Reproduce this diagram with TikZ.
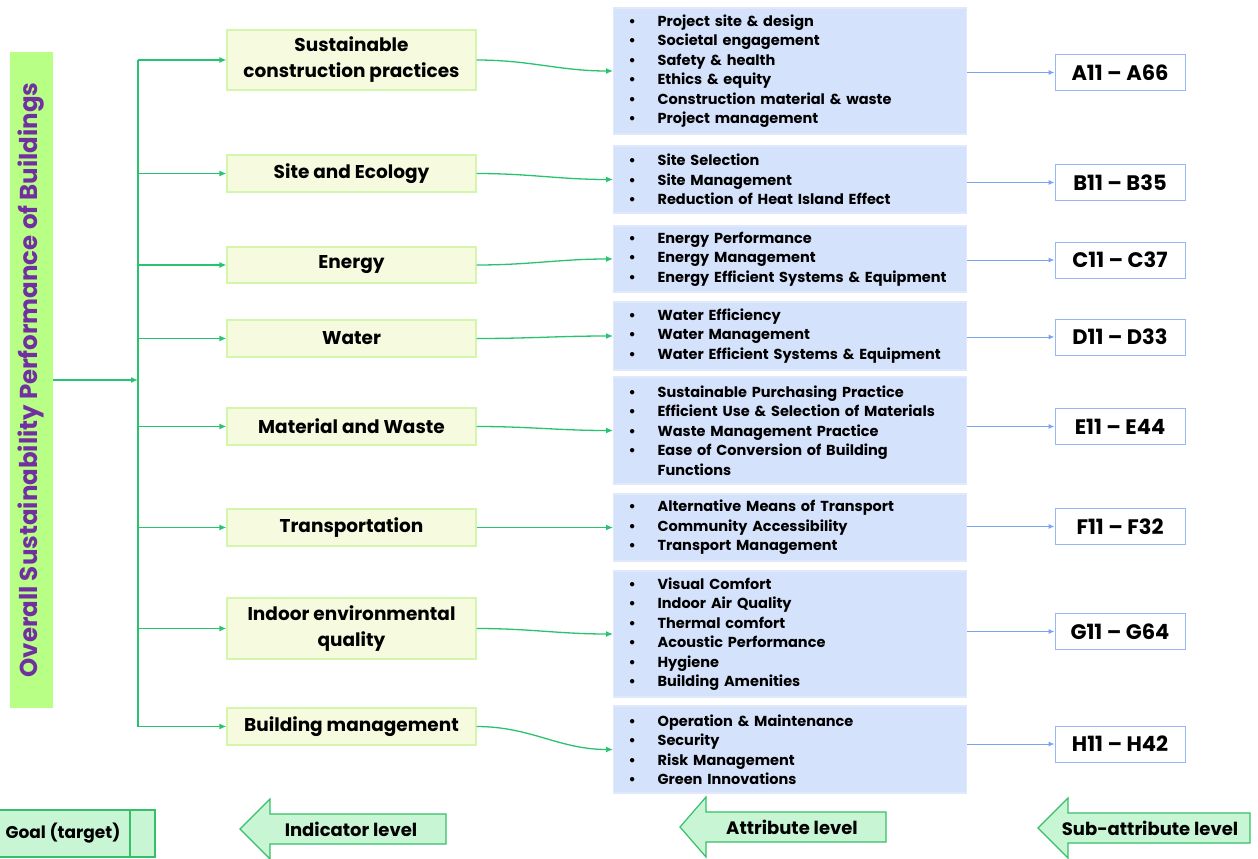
\documentclass[tikz,border=0pt]{standalone}
\usepackage{fontspec}
\setmainfont{Poppins}
\usepackage{xcolor}
\usetikzlibrary{arrows.meta, calc}

\definecolor{GoalFill}{RGB}{184,255,134}
\definecolor{GoalText}{RGB}{112,48,160}
\definecolor{LinkGreen}{RGB}{40,195,110}
\definecolor{IndFill}{RGB}{246,250,222}
\definecolor{IndLine}{RGB}{212,246,172}
\definecolor{AttrFill}{RGB}{213,226,252}
\definecolor{AttrLine}{RGB}{224,233,252}
\definecolor{CodeLine}{RGB}{150,185,245}
\definecolor{LinkBlue}{RGB}{120,165,240}
\definecolor{LevelFill}{RGB}{200,246,212}
\definecolor{LevelLine}{RGB}{55,190,105}

\tikzset{
    goalbar/.style={fill=GoalFill, text=GoalText, rotate=90, minimum width=656pt, minimum height=43pt,
        inner sep=0pt, font=\fontsize{24.5}{28}\selectfont\bfseries},
    indbox/.style={draw=IndLine, fill=IndFill, line width=1.2pt, minimum width=249pt, align=center,
        inner sep=0pt, font=\fontsize{18.5}{26}\selectfont\bfseries},
    attrbox/.style={draw=AttrLine, fill=AttrFill, line width=1.2pt, text width=323pt, inner xsep=15pt,
        inner ysep=0pt, align=left, anchor=west, font=\fontsize{14.5}{19.5}\selectfont\bfseries},
    codebox/.style={draw=CodeLine, fill=white, line width=1pt, minimum width=130pt, minimum height=36pt,
        font=\fontsize{21}{24}\selectfont\bfseries},
    greenlink/.style={draw=LinkGreen, line width=1.3pt, -{Latex[length=7pt, width=6pt]}},
    bluelink/.style={draw=LinkBlue, line width=1pt, -{Latex[length=6pt, width=5pt]}},
    levelshape/.style={draw=LevelLine, fill=LevelFill, line width=1.2pt},
    levellabel/.style={font=\fontsize{18}{20}\selectfont\bfseries}
}

\newcommand{\bul}{\makebox[29pt][l]{\textbullet}}

\begin{document}
\begin{tikzpicture}[x=1pt, y=-1pt]

    \NewDocumentCommand{\levelarrow}{ m m m m m m m }{
        \draw[levelshape] (#2,#3) -- (#4,#3-30) -- (#4,#3-15) -- (#5,#3-15)
            -- (#5,#3+15) -- (#4,#3+15) -- (#4,#3+30) -- cycle;
        \node[levellabel] (#1) at (#6,#3) {#7};
    }

    \useasboundingbox (0,0) rectangle (1258,859);

    %% Goal
    \node[goalbar] (goal) at (31.5,380) {Overall Sustainability Performance of Buildings};
    \coordinate (trunk) at (138,380);

    %% Indicators
    \foreach \n/\cy/\h/\txt in {
            1/60/60/{Sustainable\\construction practices},
            2/173.5/37/{Site and Ecology},
            3/265/36/{Energy},
            4/338.5/37/{Water},
            5/426.5/37/{Material and Waste},
            6/527.5/37/{Transportation},
            7/628.5/61/{Indoor environmental\\quality},
            8/726.5/37/{Building management}}
    \node[indbox, minimum height=\h] (ind\n) at (351.5,\cy) {\txt};

    %% Attributes
    \foreach \n/\cy/\h/\txt in {
            1/71/126/{\bul Project site \& design\\\bul Societal engagement\\\bul Safety \& health\\
                \bul Ethics \& equity\\\bul Construction material \& waste\\\bul Project management},
            2/179.5/67/{\bul Site Selection\\\bul Site Management\\\bul Reduction of Heat Island Effect},
            3/259/66/{\bul Energy Performance\\\bul Energy Management\\\bul Energy Efficient Systems \& Equipment},
            4/336/68/{\bul Water Efficiency\\\bul Water Management\\\bul Water Efficient Systems \& Equipment},
            5/430.5/107/{\bul Sustainable Purchasing Practice\\\bul Efficient Use \& Selection of Materials\\
                \bul Waste Management Practice\\\bul Ease of Conversion of Building\\\hspace*{29pt}Functions},
            6/527.5/67/{\bul Alternative Means of Transport\\\bul Community Accessibility\\\bul Transport Management},
            7/634/126/{\bul Visual Comfort\\\bul Indoor Air Quality\\\bul Thermal comfort\\
                \bul Acoustic Performance\\\bul Hygiene\\\bul Building Amenities},
            8/749.5/87/{\bul Operation \& Maintenance\\\bul Security\\\bul Risk Management\\\bul Green Innovations}}
    \node[attrbox, minimum height=\h] (attr\n) at (613,\cy) {\txt};

    %% Sub-attributes
    \foreach \n/\cy/\txt in {1/72.5/A11 – A66, 2/182.5/B11 – B35, 3/260/C11 – C37, 4/337/D11 – D33,
            5/426.5/E11 – E44, 6/526.5/F11 – F32, 7/631.5/G11 – G64, 8/744/H11 – H42}
    \node[codebox] (code\n) at (1120,\cy) {\txt};

    %% Connectors
    \draw[greenlink] (goal.south) -- (trunk);
    \draw[LinkGreen, line width=1.3pt] (ind1.west -| trunk) -- (ind8.west -| trunk);
    \foreach \n in {1,...,8} {
            \draw[greenlink] (ind\n.west -| trunk) -- (ind\n.west);
            \draw[greenlink] (ind\n.east) to[out=0, in=180] (attr\n.west);
            \draw[bluelink] (attr\n.east |- code\n.west) -- (code\n.west);
        }

    %% Levels
    \draw[levelshape] (-20,810) rectangle (155,857);
    \draw[LevelLine, line width=1.2pt] (130,810) -- (130,857);
    \node[levellabel, font=\fontsize{17}{20}\selectfont\bfseries] (goallevel) at (63,833) {Goal (target)};
    \levelarrow{indlevel}{240}{829}{270}{446}{351}{Indicator level}
    \levelarrow{attrlevel}{680}{827}{706}{886}{792}{Attribute level}
    \levelarrow{sublevel}{1038}{828}{1068}{1250}{1150}{Sub-attribute level}

\end{tikzpicture}
\end{document}
